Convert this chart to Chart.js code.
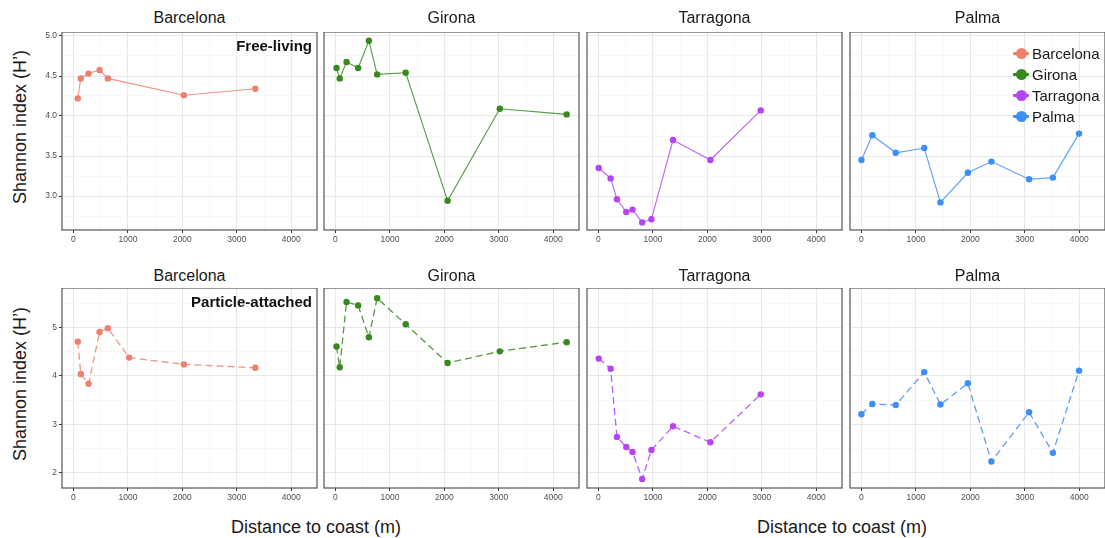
<!DOCTYPE html>
<html><head><meta charset="utf-8">
<script src="https://cdn.jsdelivr.net/npm/chart.js@4"></script>
<style>
body{margin:0;background:#fff;width:1105px;height:538px;position:relative;overflow:hidden;font-family:"Liberation Sans",Arial,Helvetica,sans-serif;}
canvas{position:absolute;}
.t{position:absolute;white-space:nowrap;color:#1a1a1a;line-height:1;}
.lg{position:absolute;left:1012px;font-size:15px;color:#1a1a1a;line-height:1;}
.lg .row{position:relative;height:21px;padding-left:20px;display:flex;align-items:center;}
.lg .bar{position:absolute;left:1px;top:9px;width:16px;height:3px;border-radius:1px;}
.lg .dot{position:absolute;left:4px;top:5px;width:11px;height:11px;border-radius:50%;}
</style></head><body>
<script>
// ---------- DATA ----------
const cities = ['Barcelona', 'Girona', 'Tarragona', 'Palma'];
const colors = ['#ED806F', '#37891F', '#B444F5', '#3E8EF7'];
const rowLabels = ['Free-living', 'Particle-attached'];

const barcelonaDistFree = [80, 135, 278, 480, 631, 2028, 3340];
const barcelonaFree     = [4.22, 4.47, 4.53, 4.575, 4.47, 4.26, 4.34];
const barcelonaDistPart = [80, 135, 278, 480, 631, 1022, 2028, 3340];
const barcelonaPart     = [4.71, 4.04, 3.84, 4.91, 4.99, 4.38, 4.24, 4.17];

const gironaDist = [20, 79, 204, 417, 614, 766, 1290, 2060, 3017, 4246];
const gironaFree = [4.60, 4.47, 4.675, 4.60, 4.94, 4.52, 4.54, 2.94, 4.09, 4.02];
const gironaPart = [4.61, 4.18, 5.53, 5.46, 4.80, 5.61, 5.07, 4.27, 4.51, 4.70];

const tarragonaDist = [5, 224, 340, 511, 626, 803, 973, 1369, 2055, 2980];
const tarragonaFree = [3.35, 3.22, 2.96, 2.80, 2.83, 2.67, 2.71, 3.70, 3.45, 4.07];
const tarragonaPart = [4.36, 4.15, 2.74, 2.53, 2.43, 1.87, 2.47, 2.96, 2.63, 3.62];

const palmaDist = [0, 200, 630, 1153, 1450, 1954, 2386, 3078, 3515, 3995];
const palmaFree = [3.45, 3.76, 3.54, 3.60, 2.92, 3.29, 3.43, 3.21, 3.23, 3.78];
const palmaPart = [3.21, 3.42, 3.40, 4.08, 3.41, 3.85, 2.23, 3.25, 2.41, 4.11];

const xTicks = [0, 1000, 2000, 3000, 4000];
const xMinor = [500, 1500, 2500, 3500];
const yTicksFree = [3.0, 3.5, 4.0, 4.5, 5.0];
const yMinorFree = [2.75, 3.25, 3.75, 4.25, 4.75];
const yTicksPart = [2, 3, 4, 5];
const yMinorPart = [2.5, 3.5, 4.5, 5.5];

// ---------- LAYOUT ----------
const series = [
  [[barcelonaDistFree, barcelonaFree], [gironaDist, gironaFree], [tarragonaDist, tarragonaFree], [palmaDist, palmaFree]],
  [[barcelonaDistPart, barcelonaPart], [gironaDist, gironaPart], [tarragonaDist, tarragonaPart], [palmaDist, palmaPart]]
];
const colLeft = [62, 324, 587, 850];
const panelW = 255;
const rows = [
  {top: 32, h: 198, yMin: 2.575, yMax: 5.05, major: yTicksFree, minor: yMinorFree, fmt: v => v.toFixed(1), dash: [], titleY: 10},
  {top: 288, h: 200, yMin: 1.683, yMax: 5.82, major: yTicksPart, minor: yMinorPart, fmt: v => String(v), dash: [7, 4], titleY: 268}
];
const LW = 30, XH = 20, RP = 4;

function addText(txt, css) {
  const d = document.createElement('div');
  d.className = 't';
  d.textContent = txt;
  Object.assign(d.style, css);
  document.body.appendChild(d);
  return d;
}

const borderPlugin = {
  id: 'pborder',
  afterDraw(chart) {
    const {ctx, chartArea: a} = chart;
    ctx.save();
    ctx.strokeStyle = '#555555';
    ctx.lineWidth = 1.2;
    ctx.strokeRect(a.left, a.top, a.right - a.left, a.bottom - a.top);
    ctx.restore();
  }
};

function gridOpts(major) {
  return {
    color: c => major.includes(c.tick && c.tick.value) ? '#E8E8E8' : '#F3F3F3',
    lineWidth: c => major.includes(c.tick && c.tick.value) ? 1 : 0.6,
    tickColor: c => major.includes(c.tick && c.tick.value) ? '#333333' : 'rgba(0,0,0,0)',
    tickLength: 3,
    drawTicks: true
  };
}
function zeroPad(scale) {
  scale.paddingLeft = 0; scale.paddingRight = 0; scale.paddingTop = 0; scale.paddingBottom = 0;
}

rows.forEach((r, ri) => {
  cities.forEach((city, ci) => {
    const cv = document.createElement('canvas');
    const w = LW + panelW + RP, h = r.h + XH;
    cv.width = w; cv.height = h;
    cv.style.left = (colLeft[ci] - LW) + 'px';
    cv.style.top = r.top + 'px';
    cv.style.width = w + 'px'; cv.style.height = h + 'px';
    document.body.appendChild(cv);

    const [dist, vals] = series[ri][ci];
    const col = colors[ci];
    new Chart(cv, {
      type: 'line',
      data: {
        datasets: [{
          data: dist.map((d, i) => ({x: d, y: vals[i]})),
          borderColor: col + 'D9',
          borderWidth: ri === 0 ? 1.1 : 1.3,
          borderDash: r.dash,
          pointRadius: 3.2,
          pointBorderWidth: 0,
          pointBackgroundColor: col,
          tension: 0,
          fill: false
        }]
      },
      options: {
        responsive: false,
        devicePixelRatio: 1,
        animation: false,
        layout: {autoPadding: false, padding: {left: 0, right: RP, top: 0, bottom: 0}},
        plugins: {legend: {display: false}, tooltip: {enabled: false}},
        scales: {
          x: {
            type: 'linear', min: -210, max: 4472,
            afterBuildTicks: s => { s.ticks = xTicks.concat(xMinor).sort((a, b) => a - b).map(v => ({value: v})); },
            afterFit: s => { s.height = XH; zeroPad(s); },
            grid: gridOpts(xTicks),
            border: {display: false},
            ticks: {
              autoSkip: false, maxRotation: 0, padding: 2,
              color: '#4D4D4D', font: {size: 8.5, family: '"Liberation Sans", Arial, sans-serif'},
              callback: v => xTicks.includes(v) ? String(v) : ''
            }
          },
          y: {
            type: 'linear', min: r.yMin, max: r.yMax,
            afterBuildTicks: s => { s.ticks = r.major.concat(r.minor).sort((a, b) => a - b).map(v => ({value: v})); },
            afterFit: s => { s.width = LW; zeroPad(s); },
            grid: Object.assign(gridOpts(r.major), ci === 0 ? {} : {tickColor: 'rgba(0,0,0,0)'}),
            border: {display: false},
            ticks: {
              display: ci === 0, autoSkip: false, padding: 2,
              color: '#4D4D4D', font: {size: 8.5, family: '"Liberation Sans", Arial, sans-serif'},
              callback: v => r.major.includes(v) ? r.fmt(v) : ''
            }
          }
        }
      },
      plugins: [borderPlugin]
    });

    addText(city, {fontSize: '16px', top: r.titleY + 'px', left: colLeft[ci] + 'px', width: panelW + 'px', textAlign: 'center'});
  });

  // row annotation (Free-living / Particle-attached)
  addText(rowLabels[ri], {fontSize: '15px', fontWeight: 'bold', top: (r.top + 6) + 'px', left: (colLeft[0]) + 'px', width: (panelW - 5) + 'px', textAlign: 'right', color: '#111'});

  // y axis title
  addText('Shannon index (H\u2019)', {fontSize: '18px', left: '20px', top: (r.top + r.h / 2 - 4) + 'px', transform: 'translate(-50%,-50%) rotate(-90deg)', transformOrigin: 'center center'});
});

// x axis titles
addText('Distance to coast (m)', {fontSize: '18px', left: '316px', top: '518px', transform: 'translateX(-50%)'});
addText('Distance to coast (m)', {fontSize: '18px', left: '842px', top: '518px', transform: 'translateX(-50%)'});

// legend
const lg = document.createElement('div');
lg.className = 'lg';
lg.style.top = '43px';
cities.forEach((c, i) => {
  const row = document.createElement('div');
  row.className = 'row';
  const bar = document.createElement('span'); bar.className = 'bar'; bar.style.background = colors[i];
  const dot = document.createElement('span'); dot.className = 'dot'; dot.style.background = colors[i];
  const lab = document.createElement('span'); lab.textContent = c;
  row.appendChild(bar); row.appendChild(dot); row.appendChild(lab);
  lg.appendChild(row);
});
document.body.appendChild(lg);
</script>
</body></html>
